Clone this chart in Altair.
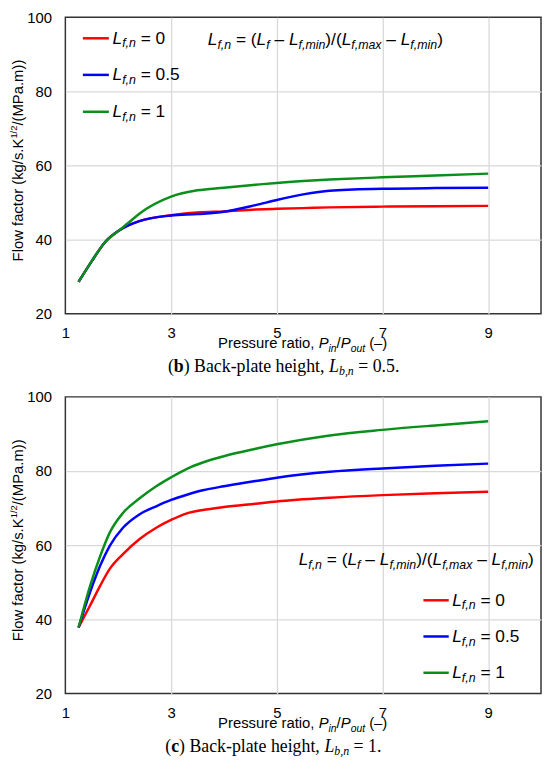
import altair as alt
import pandas as pd

# ---------------- data ----------------
series_names = ["Lf,n = 0", "Lf,n = 0.5", "Lf,n = 1"]
series_colors = ["#ff0000", "#0000ff", "#0a8f1a"]

x_ticks = [1, 3, 5, 7, 9]
y_ticks = [20, 40, 60, 80, 100]

# panel (b): back-plate height Lb,n = 0.5
x_b = [1.25, 1.5, 1.75, 2.0, 2.2, 2.4, 3.0, 3.5, 4.0, 4.6, 5.0, 5.5, 6.0, 7.0, 8.0, 9.0]
red_b = [28.6, 34.2, 39.3, 42.3, 43.9, 45.0, 46.6, 47.3, 47.6, 48.1, 48.3, 48.5, 48.7, 48.9, 49.0, 49.1]
blue_b = [28.6, 34.2, 39.3, 42.3, 43.9, 45.0, 46.5, 46.9, 47.5, 49.3, 50.7, 52.2, 53.2, 53.7, 53.9, 54.0]
green_b = [28.6, 34.2, 39.3, 42.3, 44.6, 47.0, 51.6, 53.3, 54.0, 54.8, 55.3, 55.8, 56.2, 56.8, 57.3, 57.8]

# panel (c): back-plate height Lb,n = 1
x_c = [1.25, 1.47, 1.66, 1.84, 2.09, 2.4, 2.72, 3.0, 3.3, 3.6, 4.0, 4.6, 5.0, 6.0, 7.0, 8.0, 9.0]
red_c = [37.8, 43.8, 49.1, 53.6, 57.6, 61.6, 64.7, 66.8, 68.6, 69.5, 70.3, 71.2, 71.8, 72.8, 73.5, 74.0, 74.4]
blue_c = [37.8, 47.4, 54.5, 59.8, 64.7, 68.3, 70.5, 72.2, 73.6, 74.8, 75.9, 77.3, 78.2, 79.8, 80.7, 81.4, 82.0]
green_c = [37.8, 49.1, 57.1, 63.4, 68.7, 72.6, 75.9, 78.3, 80.6, 82.3, 84.0, 86.0, 87.2, 89.6, 91.1, 92.3, 93.4]

# ---------------- text helpers ----------------
SANS = "Liberation Sans"
SERIF = "Liberation Serif"

ARIAL = {' ': 278, '(': 333, ')': 333, ',': 278, '.': 278, '/': 278, '–': 556, '-': 333,
         '=': 584, 'F': 611, 'K': 667, 'L': 556, 'M': 833, 'P': 667, 'a': 556, 'c': 500,
         'e': 556, 'f': 278, 'g': 556, 'i': 222, 'k': 500, 'l': 222, 'm': 833, 'n': 556,
         'o': 556, 'p': 556, 'r': 333, 's': 500, 't': 278, 'u': 556, 'w': 722, 'x': 500}
for d in "0123456789":
    ARIAL[d] = 556
TIMES = {' ': 250, '(': 333, ')': 333, ',': 250, '.': 250, '-': 333, '=': 564, 'B': 667,
         'L': 611, 'a': 444, 'b': 500, 'c': 444, 'e': 444, 'g': 500, 'h': 500, 'i': 278,
         'k': 500, 'l': 278, 'n': 500, 'p': 500, 't': 278}
for d in "0123456789":
    TIMES[d] = 500
TIMES_IT = {**TIMES, 'L': 556}
TIMES_BD = {**TIMES, 'b': 556, 'c': 444}

ONE = pd.DataFrame({"k": [0]})


def S(text, size, it=False, bold=False, shift=0.0, fam=SANS):
    return dict(text=text, size=size, it=it, bold=bold, shift=shift, fam=fam)


def tw(text, seg):
    if seg["fam"] == SERIF:
        tab = TIMES_BD if seg["bold"] else (TIMES_IT if seg["it"] else TIMES)
        dflt = 500
    else:
        tab, dflt = ARIAL, 556
    return sum(tab.get(c, dflt) for c in text) * seg["size"] / 1000.0


def rich(segs, x, y, anchor="left", rotate=False):
    total = sum(tw(s["text"], s) for s in segs)
    off = {"left": 0.0, "center": -total / 2.0, "right": -total}[anchor]
    out = []
    for s in segs:
        full = s["text"]
        lead = len(full) - len(full.lstrip(" "))
        shown = full.strip(" ")
        o = off + tw(" " * lead, s)
        if rotate:
            px, py = x + s["shift"], y - o
        else:
            px, py = x + o, y + s["shift"]
        mk = dict(text=shown, font=s["fam"], fontSize=s["size"], align="left",
                  baseline="alphabetic", color="black")
        if s["it"]:
            mk["fontStyle"] = "italic"
        if s["bold"]:
            mk["fontWeight"] = "bold"
        if rotate:
            mk["angle"] = 270
        out.append(alt.Chart(ONE).mark_text(**mk).encode(x=alt.value(px), y=alt.value(py)))
        off += tw(full, s)
    return out


LEG = 17.5
SUB = 12.5


def lf_label(val):
    return [S("L", LEG, it=True), S("f,n", SUB, it=True, shift=4), S(" = " + val, LEG)]


def formula():
    segs = []
    parts = [("L", "f,n", " = ("), ("L", "f", " – "), ("L", "f,min", ")/("),
             ("L", "f,max", " – "), ("L", "f,min", ")")]
    for a, b, c in parts:
        segs += [S(a, LEG, it=True), S(b, SUB, it=True, shift=4), S(c, LEG)]
    return segs


def x_title():
    return [S("Pressure ratio, ", 15), S("P", 15, it=True), S("in", 10.5, it=True, shift=3.5),
            S("/", 15), S("P", 15, it=True), S("out", 10.5, it=True, shift=3.5), S(" (–)", 15)]


def y_title():
    return [S("Flow factor (kg/s.K", 15), S("1/2", 9.5, shift=-6), S("/(MPa.m))", 15)]


def caption(letter, val):
    return [S("(", 18, fam=SERIF), S(letter, 18, bold=True, fam=SERIF),
            S(") Back-plate height, ", 18, fam=SERIF), S("L", 18, it=True, fam=SERIF),
            S("b,n", 12, it=True, shift=3, fam=SERIF), S(" = " + val, 18, fam=SERIF)]


W, H = 481, 300


def panel(xs, reds, blues, greens, leg_x, leg_y, label_x, form_pos, cap_letter, cap_val, cap_x):
    rows = []
    for name, ys in zip(series_names, [reds, blues, greens]):
        for xv, yv in zip(xs, ys):
            rows.append({"x": xv, "y": yv, "series": name})
    df = pd.DataFrame(rows)

    grid_x = alt.condition("datum.value == 1", alt.value(0), alt.value(1))
    grid_y = alt.condition("datum.value == 20 || datum.value == 100", alt.value(0), alt.value(1))

    lines = alt.Chart(df).mark_line(interpolate="monotone", strokeWidth=2.5).encode(
        x=alt.X("x:Q", scale=alt.Scale(domain=[1, 10], nice=False, zero=False),
                axis=alt.Axis(values=x_ticks, title=None, ticks=False, tickSize=0, domain=False,
                              labelFont=SANS, labelFontSize=15, labelColor="black",
                              labelPadding=12, labelFlush=False, labelOverlap=False,
                              grid=True, gridColor="#d9d9d9", gridWidth=1.3,
                              gridOpacity=grid_x)),
        y=alt.Y("y:Q", scale=alt.Scale(domain=[20, 100], nice=False, zero=False),
                axis=alt.Axis(values=y_ticks, title=None, ticks=False, tickSize=0, domain=False,
                              labelFont=SANS, labelFontSize=15, labelColor="black",
                              labelPadding=14, labelOverlap=False,
                              grid=True, gridColor="#d9d9d9", gridWidth=1.3,
                              gridOpacity=grid_y)),
        color=alt.Color("series:N", scale=alt.Scale(domain=series_names, range=series_colors),
                        legend=None),
    )

    layers = [lines]
    vals = ["0", "0.5", "1"]
    for col, ly, v in zip(series_colors, leg_y, vals):
        layers.append(alt.Chart(ONE).mark_rule(color=col, strokeWidth=2.5).encode(
            x=alt.value(leg_x[0]), x2=alt.value(leg_x[1]), y=alt.value(ly)))
        layers += rich(lf_label(v), label_x, ly + 5.3)
    fx, fy, fanchor = form_pos
    layers += rich(formula(), fx, fy, anchor=fanchor)
    layers += rich(x_title(), W / 2 - 0.5, H + 35, anchor="center")
    layers += rich(y_title(), -42.9, 145, anchor="center", rotate=True)
    layers += rich(caption(cap_letter, cap_val), cap_x, H + 59)
    return alt.layer(*layers).properties(width=W, height=H)


panel_b = panel(x_b, red_b, blue_b, green_b,
                leg_x=(17.7, 44.0), leg_y=[21.4, 58.4, 95.7], label_x=47.7,
                form_pos=(144.0, 28.0, "left"), cap_letter="b", cap_val="0.5.", cap_x=103.7)
panel_c = panel(x_c, red_c, blue_c, green_c,
                leg_x=(362.1, 387.7), leg_y=[205.7, 242.3, 279.0], label_x=391.2,
                form_pos=(473.7, 170.5, "right"), cap_letter="c", cap_val="1.", cap_x=101.0)

chart = alt.vconcat(panel_b, panel_c, spacing=11).properties(
    padding={"left": 0, "top": -3, "right": 0, "bottom": 0}
).configure_view(stroke="#333333", strokeWidth=1.5)

chart.save("out.html", embed_options={"renderer": "svg", "actions": False})
